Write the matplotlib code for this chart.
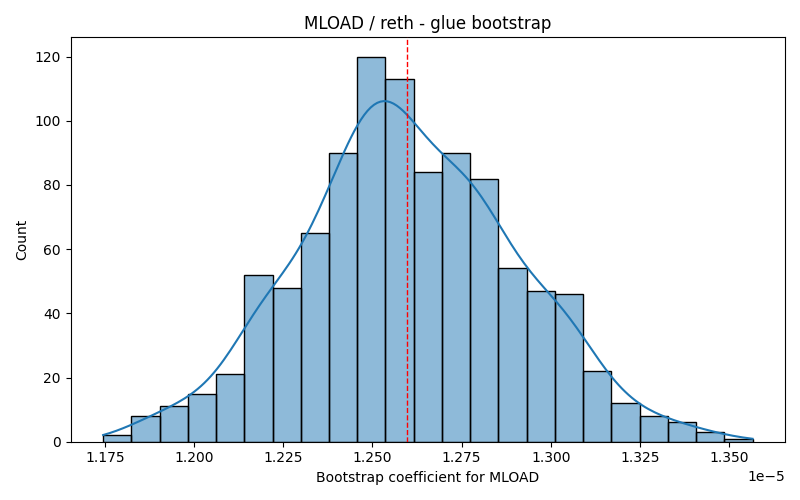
import numpy as np
import matplotlib
matplotlib.use('Agg')
import matplotlib.pyplot as plt

# bootstrap histogram (values in units of 1e-5)
counts = [2, 8, 11, 15, 21, 52, 48, 65, 90, 120, 113, 84,
          90, 82, 54, 47, 46, 22, 12, 8, 6, 3, 1]
bin_lo = 1.17453e-5
bin_hi = 1.35654e-5
mean_coef = 1.2597e-5

title = "MLOAD / reth - glue bootstrap"
xlabel = "Bootstrap coefficient for MLOAD"
ylabel = "Count"

counts = np.array(counts, dtype=float)
edges = np.linspace(bin_lo, bin_hi, len(counts) + 1)
width = edges[1] - edges[0]
centers = (edges[:-1] + edges[1:]) / 2

fig, ax = plt.subplots(figsize=(8, 5), dpi=100)
ax.bar(edges[:-1], counts, width=width, align='edge',
       color='#1f77b4', alpha=0.5, edgecolor='none')
ax.bar(edges[:-1], counts, width=width, align='edge',
       fill=False, edgecolor='black', linewidth=1)

# gaussian kde on the binned samples, scott bandwidth, cut at data range
n = counts.sum()
mu = np.sum(counts * centers) / n
sd = np.sqrt(np.sum(counts * (centers - mu) ** 2) / n)
bw = sd * n ** (-1 / 5) * 1.12
grid = np.linspace(bin_lo, bin_hi, 200)
dens = np.zeros_like(grid)
for c, w in zip(centers, counts):
    dens += w * np.exp(-0.5 * ((grid - c) / bw) ** 2)
dens = dens / (n * bw * np.sqrt(2 * np.pi))
ax.plot(grid, dens * n * width, color='#1f77b4', linewidth=1.5)

ax.axvline(mean_coef, color='red', linestyle='--', linewidth=1, zorder=5)

ax.set_title(title)
ax.set_xlabel(xlabel)
ax.set_ylabel(ylabel)
fig.tight_layout()
fig.savefig('out.png')
